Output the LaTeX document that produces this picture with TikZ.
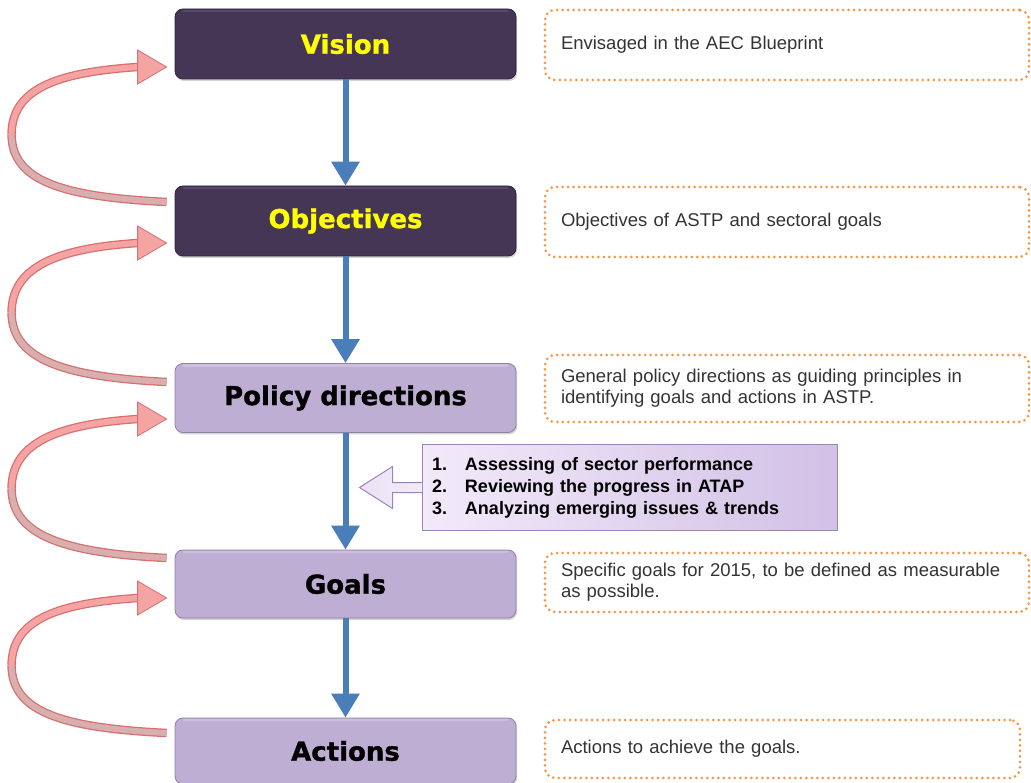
\documentclass[tikz,border=0pt]{standalone}
\usepackage{fontspec}
\setmainfont{Liberation Sans}
\newfontfamily\headfont{DejaVu Sans}[BoldFeatures={FakeBold=1.2}]
\usetikzlibrary{arrows.meta,calc,shadows}

\definecolor{darkbox}{HTML}{463656}
\definecolor{darkedge}{HTML}{2F2440}
\definecolor{darktop}{HTML}{584870}
\definecolor{lightbox}{HTML}{BEAED4}
\definecolor{lighttop}{HTML}{CCBFE0}
\definecolor{lightedge}{HTML}{8F80A6}
\definecolor{headyellow}{HTML}{FFFF00}
\definecolor{flowblue}{HTML}{4A7EBB}
\definecolor{dotorange}{HTML}{F79646}
\definecolor{pinkfill}{HTML}{F6A3A3}
\definecolor{pinkback}{HTML}{D8AEAE}
\definecolor{pinkedge}{HTML}{D86E6E}
\definecolor{callleft}{HTML}{F2EAF9}
\definecolor{callright}{HTML}{D2C0E6}
\definecolor{calledge}{HTML}{9A86B6}
\definecolor{notetext}{HTML}{333333}

\newcommand\pinkloop[4]{%
  \coordinate (plt) at ($(#1.west)+(-8,#2)$);
  \coordinate (plh) at ($(#3.west)+(-8,#4)$);
  \coordinate (plb) at ($(plh)+(-29,0)$);
  \coordinate (plm) at ($(plt)!0.5!(plh)+(-155,0)$);
  \draw[pinkedge, line width=8.5pt] (plt) .. controls +(-100,-5) and +(0,48) .. (plm);
  \draw[pinkedge, line width=8.5pt] (plm) .. controls +(0,-48) and +(-75,5) .. (plb);
  \draw[pinkback, line width=6pt] (plt) .. controls +(-100,-5) and +(0,48) .. (plm);
  \draw[pinkfill, line width=6pt] (plm) .. controls +(0,-48) and +(-75,5) .. (plb);
  \fill[pinkfill, draw=pinkedge, line width=0.8pt]
    ($(plb)+(0,-17)$) -- (plh) -- ($(plb)+(0,17)$) -- cycle;
}

\begin{document}
\begin{tikzpicture}[x=1pt,y=-1pt,
  stagebox/.style={rounded corners=8pt, minimum width=341pt, inner sep=0pt,
    font=\headfont\bfseries\fontsize{26}{30}\selectfont,
    drop shadow={shadow xshift=1pt,shadow yshift=-2pt,opacity=.35}},
  darkstage/.style={stagebox, fill=darkbox, draw=darkedge, line width=0.8pt, text=headyellow},
  lightstage/.style={stagebox, fill=lightbox, draw=lightedge, line width=0.8pt, text=black},
  note/.style={draw=dotorange, line width=3pt, dash pattern=on 0pt off 5.5pt, line cap=round,
    rounded corners=10pt, minimum width=484pt, text width=452pt, align=left,
    inner xsep=16pt, inner ysep=0pt, font=\fontsize{18.5}{21}\selectfont, text=notetext},
  flow/.style={draw=flowblue, line width=6pt, -{Triangle[width=27pt,length=24pt]}},
  callbox/.style={draw=calledge, line width=1pt, left color=callleft, right color=callright,
    minimum width=415pt, minimum height=85pt, text width=395pt, inner xsep=10pt,
    inner ysep=0pt, align=left, font=\bfseries\fontsize{18}{22}\selectfont},
  rim/.style={line width=2.5pt, line cap=round},
]
\useasboundingbox (0,0) rectangle (1031,783);

% stage boxes
\node[darkstage, minimum height=70pt] (vision) at (345.5,44) {Vision};
\node[darkstage, minimum height=70pt] (obj) at (345.5,221) {Objectives};
\node[lightstage, minimum height=69pt] (policy) at (345.5,398) {Policy directions};
\node[lightstage, minimum height=68pt] (goals) at (345.5,584) {Goals};
\node[lightstage, minimum height=66pt] (actions) at (345.5,751) {Actions};

% top highlights
\foreach \b/\c in {vision/darktop, obj/darktop, policy/lighttop, goals/lighttop, actions/lighttop}
  \draw[rim, draw=\c] ($(\b.north west)+(9,2.5)$) -- ($(\b.north east)+(-9,2.5)$);

% flow arrows
\draw[flow] (vision.south) -- (obj.north);
\draw[flow] (obj.south) -- (policy.north);
\draw[flow] (policy.south) -- (goals.north);
\draw[flow] (goals.south) -- (actions.north);

% feedback loops
\pinkloop{obj}{-19}{vision}{23}
\pinkloop{policy}{-16}{obj}{22}
\pinkloop{goals}{-26}{policy}{21}
\pinkloop{actions}{-18}{goals}{14}

% notes
\node[note, minimum height=70pt] (n1) at (787,45) {Envisaged in the AEC Blueprint};
\node[note, minimum height=70pt] (n2) at (787,222) {Objectives of ASTP and sectoral goals};
\node[note, minimum height=67pt] (n3) at (787,388.5) {General policy directions as guiding principles in\\identifying goals and actions in ASTP.};
\node[note, minimum height=59pt] (n4) at (787,582.5) {Specific goals for 2015, to be defined as measurable\\as possible.};
\node[note, minimum height=58pt, minimum width=475pt, text width=443pt] (n5) at (782.5,749) {Actions to achieve the goals.};

% callout
\node[callbox] (call) at (629.5,487.5)
  {\makebox[33pt][l]{1.}Assessing of sector performance\\
   \makebox[33pt][l]{2.}Reviewing the progress in ATAP\\
   \makebox[33pt][l]{3.}Analyzing emerging issues \& trends};
\draw[calledge, line width=1pt, left color=callleft!80!callright, right color=callleft]
  ($(call.west)+(0.5,-5)$) -- ++(-29.5,0) -- ++(0,-16) -- ($(call.west)+(-62,0)$)
  -- ($(call.west)+(-29,21)$) -- ++(0,-16) -- ($(call.west)+(0.5,5)$);
\end{tikzpicture}
\end{document}
